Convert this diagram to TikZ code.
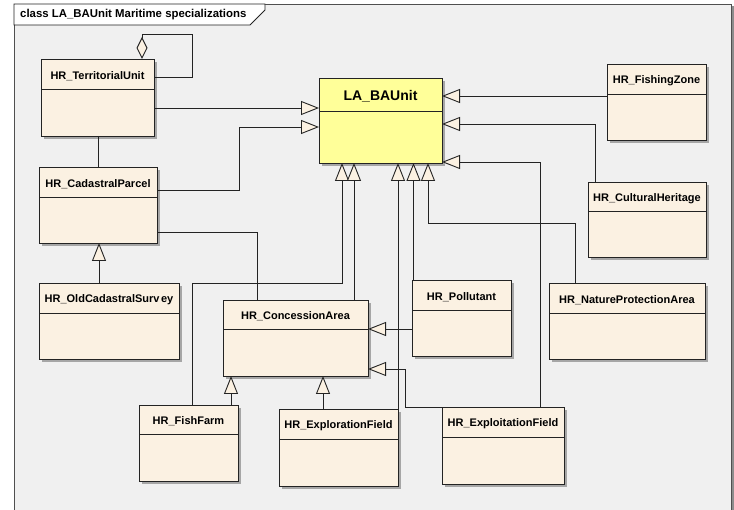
\documentclass[tikz,border=0pt]{standalone}
\usepackage{fontspec}
\setmainfont{Liberation Sans}
\usetikzlibrary{arrows.meta,calc}
\definecolor{cream}{RGB}{251,241,226}
\definecolor{bayel}{RGB}{255,255,153}
\definecolor{bg}{RGB}{240,240,240}
\definecolor{lin}{RGB}{35,35,35}
\newcommand\umlbox[9]{%
  \fill[black!35] ({#2+3},{#3+3}) rectangle ({#4+3},{#5+3});
  \node[draw=lin, fill=#8, line width=0.9pt, inner sep=0pt, outer sep=0pt, anchor=north west,
        minimum width={#4-#2}, minimum height={#5-#3}] (#1) at (#2,#3) {};
  \draw[lin, line width=0.9pt] (#2,#6) -- (#4,#6);
  \node[font=\bfseries\fontsize{#9}{#9}\selectfont, inner sep=0pt] (#1t) at ({(#2+#4)/2},{(#3+#6)/2+2}) {#7};
}
\tikzset{
  gen/.style={draw=lin, line width=0.9pt, -{Triangle[length=18pt,width=14pt,fill=cream]}},
  assoc/.style={draw=lin, line width=0.9pt},
}
\begin{document}
\begin{tikzpicture}[x=1pt,y=-1pt]
\useasboundingbox (0,0) rectangle (734,510);
\fill[white] (0,0) rectangle (734,510);
\fill[bg] (14,4) rectangle (732,512);
\fill[black!45] (732,6) rectangle (734,512);
\draw[lin!80, line width=0.9pt] (14,512) -- (14,4) -- (731.5,4) -- (731.5,512);
\filldraw[fill=white, draw=lin, line width=0.9pt] (14,4) -- (265,4) -- (265,10) -- (250,25) -- (14,25) -- cycle;
\node[font=\bfseries\fontsize{11.4}{12}\selectfont, anchor=west, inner sep=0pt] (title) at (20,15) {class LA\_BAUnit Maritime specializations};

\umlbox{tu}{41}{59}{154}{136}{89}{HR\_TerritorialUnit}{cream}{11}
\umlbox{cp}{39}{167}{157}{243}{197}{HR\_CadastralParcel}{cream}{11}
\umlbox{ocs}{39}{283}{179}{359}{313}{HR\_OldCadastralSurv\kern1.5pt ey}{cream}{11}
\umlbox{ca}{223}{300}{368}{376}{329}{HR\_ConcessionArea}{cream}{11}
\umlbox{ff}{139}{405}{238}{481}{434}{HR\_FishFarm}{cream}{11}
\umlbox{ef}{279}{409}{398}{486}{439}{HR\_ExplorationField}{cream}{11}
\umlbox{xf}{442}{407}{564}{484}{437}{HR\_ExploitationField}{cream}{11}
\umlbox{pol}{412}{280}{511}{356}{310}{HR\_Pollutant}{cream}{11}
\umlbox{npa}{549}{283}{705}{359}{313}{HR\_NatureProtectionArea}{cream}{11}
\umlbox{fz}{607}{64}{706}{140}{94}{HR\_FishingZone}{cream}{11}
\umlbox{ch}{588}{182}{706}{257}{211}{HR\_CulturalHeritage}{cream}{11}
\umlbox{la}{319}{78}{442}{163}{111}{LA\_BAUnit}{bayel}{14}

\draw[assoc,-{Diamond[length=22pt,width=11pt,fill=cream]}] ([yshift=-18pt]tu.north east) -- (192,77) -- (192,34) -- (142,34) -- ([xshift=101pt]tu.north west);
\draw[gen] ([yshift=-49pt]tu.north east) -- ([yshift=-30pt]la.north west);
\draw[gen] ([yshift=-23pt]cp.north east) -- (239,190) -- (239,127) -- ([yshift=-49pt]la.north west);
\draw[assoc] ([yshift=-65pt]cp.north east) -- (257,232) -- ([xshift=34pt]ca.north west);
\draw[assoc] ([xshift=57pt]tu.south west) -- ([xshift=59pt]cp.north west);
\draw[gen] ([xshift=60pt]ocs.north west) -- ([xshift=60pt]cp.south west);
\draw[gen] ([yshift=-32pt]fz.north west) -- ([yshift=-18pt]la.north east);
\draw[gen] ([xshift=7pt]ch.north west) -- (595,124) -- ([yshift=-46pt]la.north east);
\draw[gen] ([xshift=98pt]xf.north west) -- (540,162) -- ([yshift=-84pt]la.north east);
\draw[gen] ([xshift=53pt]ff.north west) -- (192,283) -- (342,283) -- ([xshift=23pt]la.south west);
\draw[gen] ([xshift=131pt]ca.north west) -- ([xshift=35pt]la.south west);
\draw[gen] (ef.north east) -- ([xshift=79pt]la.south west);
\draw[gen] ([xshift=1.5pt]pol.north west) -- ([xshift=94.5pt]la.south west);
\draw[gen] ([xshift=26pt]npa.north west) -- (575,223) -- (428,223) -- ([xshift=109pt]la.south west);
\draw[gen] ([yshift=-49pt]pol.north west) -- ([yshift=-29pt]ca.north east);
\draw[gen] (xf.north west) -- (405,407) -- (405,369) -- ([yshift=-69pt]ca.north east);
\draw[gen] ([xshift=92pt]ff.north west) -- ([xshift=8pt]ca.south west);
\draw[gen] ([xshift=44pt]ef.north west) -- ([xshift=100pt]ca.south west);
\end{tikzpicture}
\end{document}
